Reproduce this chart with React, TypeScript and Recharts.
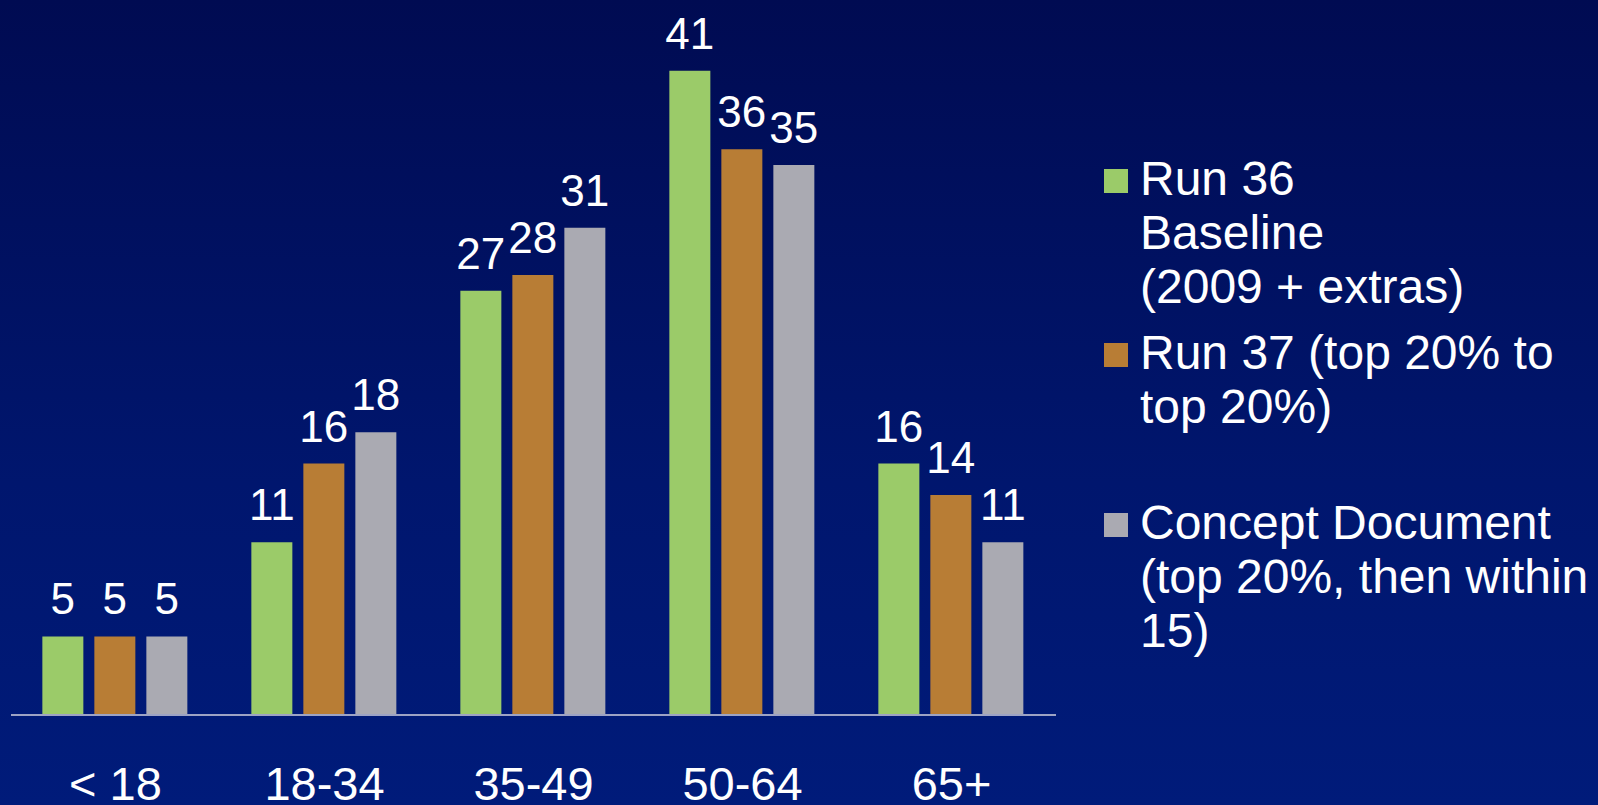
import { BarChart, Bar, XAxis, YAxis, LabelList } from "recharts";

const categories = ["< 18", "18-34", "35-49", "50-64", "65+"];
const run36Values = [5, 11, 27, 41, 16];
const run37Values = [5, 16, 28, 36, 14];
const conceptValues = [5, 18, 31, 35, 11];

const seriesNames = [
  "Run 36 Baseline (2009 + extras)",
  "Run 37 (top 20% to top 20%)",
  "Concept Document (top 20%, then within 15)",
];
const legendLines = [
  ["Run 36", "Baseline", "(2009 + extras)"],
  ["Run 37 (top 20% to", "top 20%)"],
  ["Concept Document", "(top 20%, then within", "15)"],
];
const seriesColors = ["#9BCB69", "#B87D35", "#AAAAB2"];
const legendTops = [152, 326, 496];

const data = categories.map((c, i) => ({
  name: c,
  run36: run36Values[i],
  run37: run37Values[i],
  concept: conceptValues[i],
}));
const keys = ["run36", "run37", "concept"];

const FONT = "'Liberation Sans', Arial, sans-serif";

export default function App() {
  return (
    <div
      style={{
        position: "fixed",
        left: 0,
        top: 0,
        width: 1598,
        height: 805,
        overflow: "hidden",
        background: "linear-gradient(180deg, #000B52 0%, #00166E 60%, #001B7A 100%)",
        fontFamily: FONT,
      }}
    >
      <BarChart
        width={1598}
        height={805}
        data={data}
        margin={{ top: 0, right: 542, left: 11, bottom: 0 }}
        barCategoryGap="15%"
        barGap={11}
      >
        <XAxis
          dataKey="name"
          height={90}
          axisLine={{ stroke: "#9DA3C4", strokeWidth: 2 }}
          tickLine={false}
          tickMargin={46}
          tick={{ fill: "#FFFFFF", fontSize: 47, fontFamily: FONT }}
        />
        <YAxis hide domain={[0, 45.5]} />
        {keys.map((k, i) => (
          <Bar
            key={k}
            dataKey={k}
            name={seriesNames[i]}
            fill={seriesColors[i]}
            isAnimationActive={false}
          >
            <LabelList
              dataKey={k}
              position="top"
              offset={22}
              style={{ fill: "#FFFFFF", fontSize: 44, fontFamily: FONT }}
            />
          </Bar>
        ))}
      </BarChart>
      {legendLines.map((lines, i) => (
        <div key={i} style={{ position: "absolute", left: 1104, top: legendTops[i] }}>
          <div
            style={{
              position: "absolute",
              left: 0,
              top: 17,
              width: 24,
              height: 24,
              background: seriesColors[i],
            }}
          />
          <div
            style={{
              position: "absolute",
              left: 36,
              top: 0,
              color: "#FFFFFF",
              fontSize: 48,
              lineHeight: "54px",
              whiteSpace: "nowrap",
            }}
          >
            {lines.map((l, j) => (
              <div key={j}>{l}</div>
            ))}
          </div>
        </div>
      ))}
    </div>
  );
}
